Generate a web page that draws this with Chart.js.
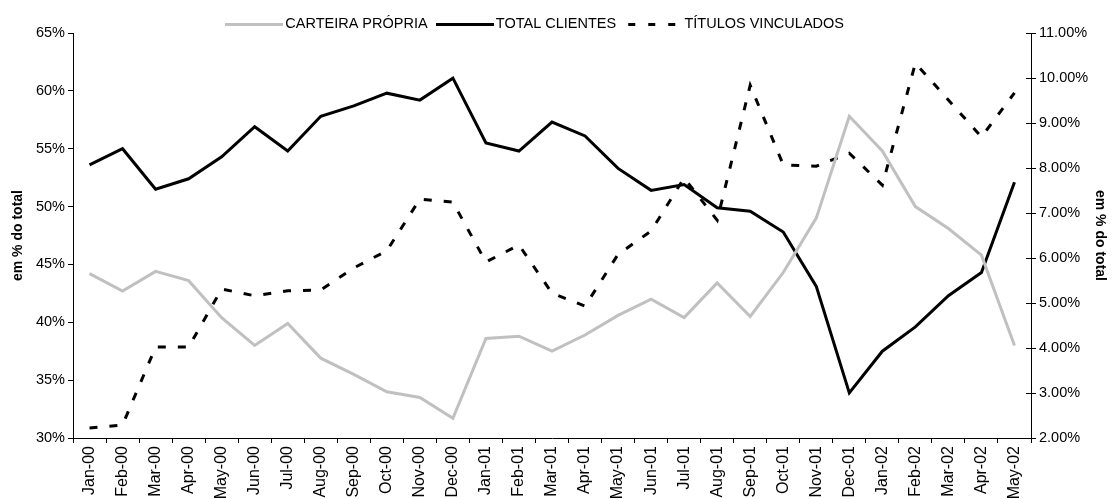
<!DOCTYPE html>
<html>
<head>
<meta charset="utf-8">
<script src="https://cdn.jsdelivr.net/npm/chart.js@4.4.0/dist/chart.umd.min.js"></script>
<style>
  html, body { margin: 0; padding: 0; background: #fff; }
</style>
</head>
<body>
<canvas id="chart" width="1118" height="499"></canvas>
<script>
const months = [
  'Jan-00', 'Feb-00', 'Mar-00', 'Apr-00', 'May-00', 'Jun-00', 'Jul-00', 'Aug-00', 'Sep-00', 'Oct-00', 'Nov-00', 'Dec-00',
  'Jan-01', 'Feb-01', 'Mar-01', 'Apr-01', 'May-01', 'Jun-01', 'Jul-01', 'Aug-01', 'Sep-01', 'Oct-01', 'Nov-01', 'Dec-01',
  'Jan-02', 'Feb-02', 'Mar-02', 'Apr-02', 'May-02'
];

// left axis, % of total
const carteiraPropria = [44.2, 42.7, 44.4, 43.6, 40.4, 38.0, 39.9, 36.9, 35.5, 34.0, 33.5, 31.7,
  38.6, 38.8, 37.5, 38.9, 40.6, 42.0, 40.4, 43.4, 40.5, 44.3, 49.0, 57.8, 54.8, 50.0, 48.1, 45.8, 38.0];
const totalClientes = [53.6, 55.0, 51.5, 52.4, 54.3, 56.9, 54.8, 57.8, 58.7, 59.8, 59.2, 61.1,
  55.5, 54.8, 57.3, 56.1, 53.3, 51.4, 51.9, 49.9, 49.6, 47.8, 43.1, 33.9, 37.5, 39.6, 42.3, 44.3, 52.1];
// right axis
const titulosVinculados = [2.22, 2.29, 4.02, 4.02, 5.31, 5.16, 5.27, 5.29, 5.78, 6.16, 7.31, 7.24,
  5.91, 6.29, 5.22, 4.93, 6.08, 6.60, 7.78, 6.84, 9.84, 8.07, 8.04, 8.33, 7.62, 10.33, 9.51, 8.69, 9.67];

const leftTicks = { min: 30, max: 65, step: 5 };
const rightTicks = { min: 2, max: 11, step: 1 };

Chart.defaults.font.family = '"Liberation Sans", Arial, sans-serif';
Chart.defaults.color = '#000';

// legend line samples, drawn wider than the box so they touch the text
function makeSample(color, dashes) {
  const c = document.createElement('canvas');
  c.width = 58;
  c.height = 3;
  const g = c.getContext('2d');
  g.fillStyle = color;
  if (dashes) {
    dashes.forEach(d => g.fillRect(d[0], 0, d[1], 3));
  } else {
    g.fillRect(0, 0, 58, 3);
  }
  return c;
}

const samples = [
  makeSample('#c0c0c0'),
  makeSample('#000'),
  makeSample('#000', [[4, 7], [24, 7], [44, 7]])
];

// right axis tick marks cross the axis line; legend sits a bit left of centre
const tweaks = {
  id: 'tweaks',
  afterLayout(chart) {
    if (chart.legend) {
      chart.legend.left -= 22;
      chart.legend.right -= 22;
    }
  },
  afterDraw(chart) {
    const s = chart.scales.y2;
    const ctx = chart.ctx;
    ctx.save();
    ctx.strokeStyle = '#000';
    ctx.lineWidth = 1;
    s.ticks.forEach((t, i) => {
      const y = Math.round(s.getPixelForTick(i)) + 0.5;
      ctx.beginPath();
      ctx.moveTo(s.left - 5, y);
      ctx.lineTo(s.left, y);
      ctx.stroke();
    });
    ctx.restore();
  }
};

const ctx = document.getElementById('chart').getContext('2d');

new Chart(ctx, {
  type: 'line',
  data: {
    labels: months,
    datasets: [{
      label: 'CARTEIRA PRÓPRIA',
      data: carteiraPropria,
      borderColor: '#c0c0c0',
      backgroundColor: '#c0c0c0',
      borderWidth: 3,
      yAxisID: 'y'
    }, {
      label: 'TOTAL CLIENTES',
      data: totalClientes,
      borderColor: '#000',
      backgroundColor: '#000',
      borderWidth: 3,
      yAxisID: 'y'
    }, {
      label: 'TÍTULOS VINCULADOS',
      data: titulosVinculados,
      borderColor: '#000',
      backgroundColor: '#000',
      borderWidth: 3,
      borderDash: [8, 12],
      yAxisID: 'y2'
    }]
  },
  options: {
    responsive: false,
    animation: false,
    layout: { padding: { top: 4, left: 0, right: 0, bottom: 0 } },
    elements: {
      point: { radius: 0 },
      line: { tension: 0 }
    },
    scales: {
      x: {
        offset: true,
        grid: { display: true, offset: true, drawOnChartArea: false, tickLength: 5, color: '#000' },
        border: { color: '#000', width: 1 },
        ticks: { minRotation: 90, maxRotation: 90, autoSkip: false, padding: 3, font: { size: 16 } },
        afterFit(scale) { scale.height = 61; }
      },
      y: {
        position: 'left',
        min: leftTicks.min,
        max: leftTicks.max,
        grid: { drawOnChartArea: false, tickLength: 5, color: '#000' },
        border: { color: '#000', width: 1 },
        ticks: {
          stepSize: leftTicks.step,
          padding: 3,
          font: { size: 14.5 },
          callback: v => v + '%'
        },
        title: {
          display: true,
          text: 'em % do total',
          font: { size: 14, weight: 'bold' },
          padding: { top: 10, bottom: 0 }
        },
        afterFit(scale) { scale.width = 73; }
      },
      y2: {
        position: 'right',
        min: rightTicks.min,
        max: rightTicks.max,
        grid: { drawOnChartArea: false, tickLength: 5, color: '#000' },
        border: { color: '#000', width: 1 },
        ticks: {
          stepSize: rightTicks.step,
          padding: 3,
          font: { size: 14.5 },
          callback: v => v.toFixed(2) + '%'
        },
        title: {
          display: true,
          text: 'em % do total',
          font: { size: 14, weight: 'bold' },
          padding: { top: 10, bottom: 0 }
        },
        afterFit(scale) { scale.width = 87; }
      }
    },
    plugins: {
      legend: {
        position: 'top',
        maxHeight: 29,
        labels: {
          usePointStyle: true,
          pointStyleWidth: 48,
          padding: 13,
          font: { size: 14.5 },
          generateLabels(chart) {
            const items = Chart.defaults.plugins.legend.labels.generateLabels(chart);
            items.forEach((it, i) => { it.pointStyle = samples[i]; });
            return items;
          }
        }
      },
      tooltip: { enabled: false }
    }
  },
  plugins: [tweaks]
});
</script>
</body>
</html>
